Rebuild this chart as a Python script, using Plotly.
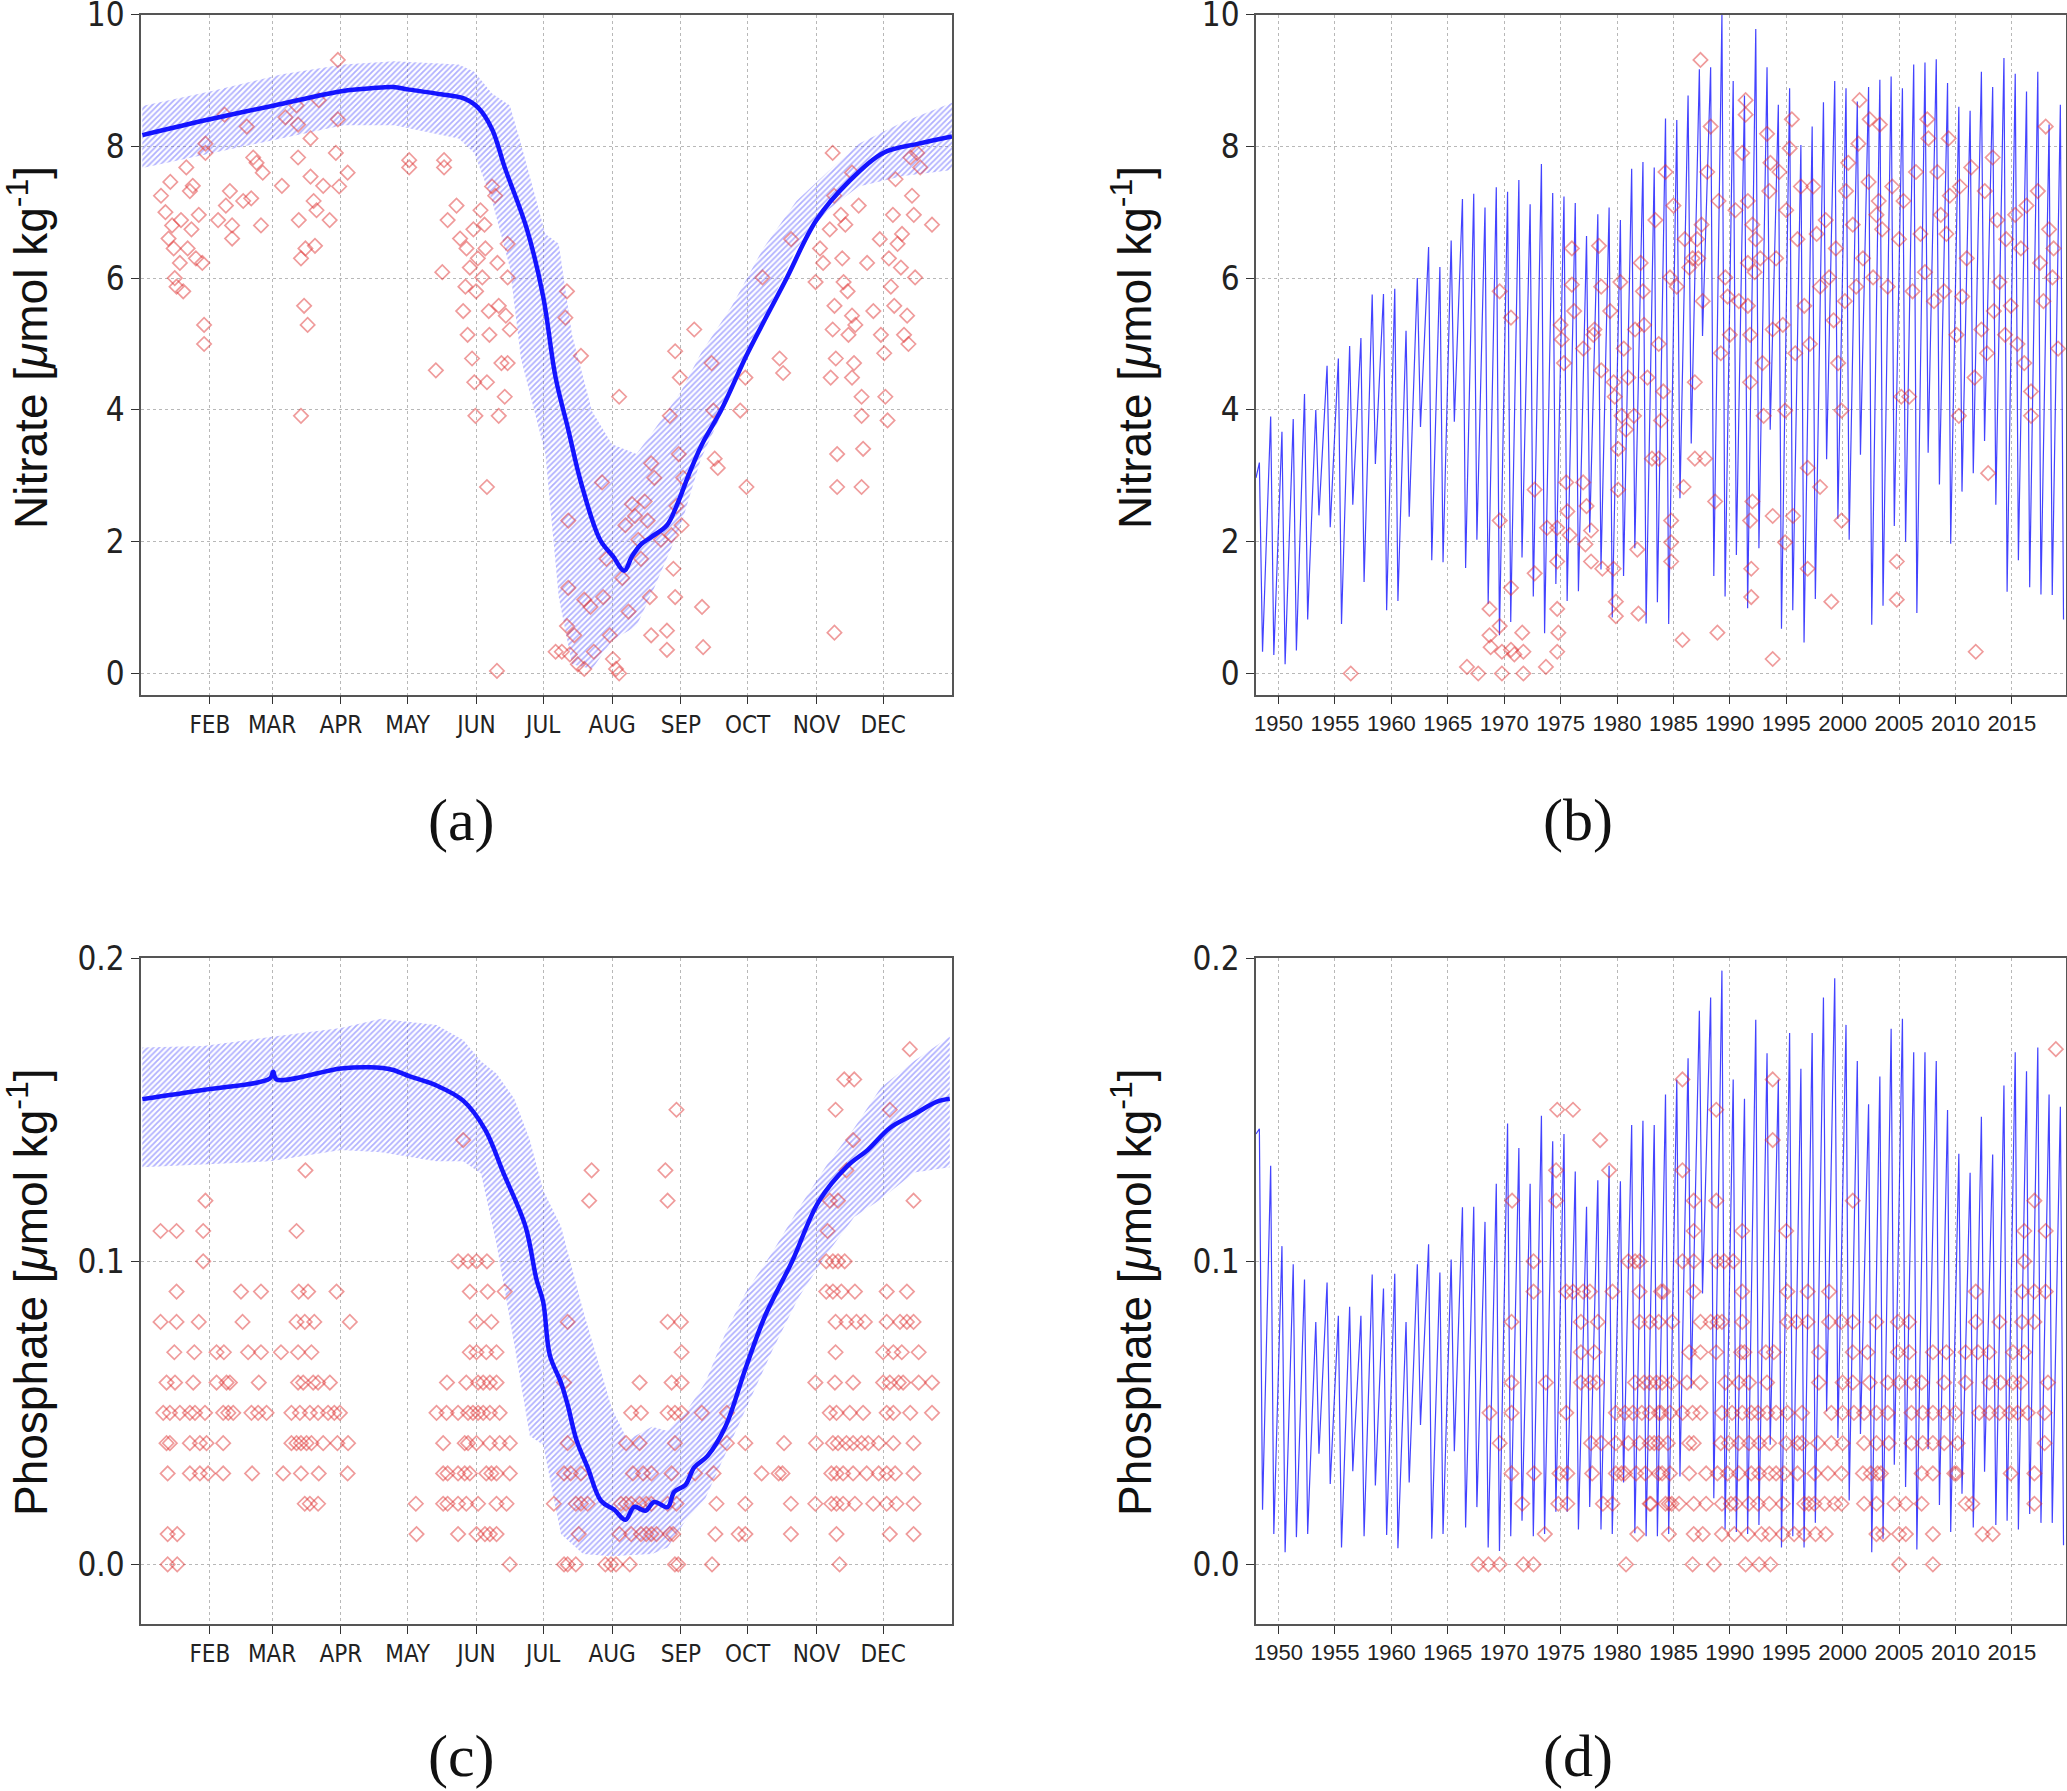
import plotly.graph_objects as go

# ---------------- data ----------------
MONTH_DAYS = [32, 60, 91, 121, 152, 182, 213, 244, 274, 305, 335]
MONTH_LABELS = ['FEB', 'MAR', 'APR', 'MAY', 'JUN', 'JUL', 'AUG', 'SEP', 'OCT', 'NOV', 'DEC']
YEAR_TICKS = list(range(1950, 2016, 5))

# climatology, nitrate (day of year, mean, band low, band high)
no3_clim_day = [1.6, 32, 61, 92, 104.5, 114.5, 121.7, 136, 146, 152.6, 159, 164.7, 174.7, 182, 187.6,
                193.3, 199, 207.6, 213.4, 218.5, 222, 226, 230.6, 237.7, 242, 247.8, 253.5, 262, 274,
                290.7, 305, 319.4, 335, 351, 366]
no3_clim_mean = [8.17, 8.41, 8.62, 8.84, 8.88, 8.90, 8.86, 8.79, 8.73, 8.59, 8.26, 7.68, 6.74, 5.72, 4.49,
                 3.70, 2.90, 2.03, 1.78, 1.56, 1.78, 1.96, 2.07, 2.25, 2.54, 3.04, 3.48, 3.99, 4.86,
                 5.94, 6.88, 7.46, 7.90, 8.04, 8.15]
no3_band_day = [1.6, 33, 64, 92, 115, 144, 151, 159, 167, 172, 183, 189, 195, 204, 213, 224, 232, 244,
                253, 267, 281, 296, 310, 324, 344, 366]
no3_band_hi = [8.61, 8.84, 9.09, 9.24, 9.29, 9.24, 9.13, 8.80, 8.62, 8.04, 6.67, 6.52, 5.14, 3.98, 3.48,
               3.33, 3.70, 4.28, 4.86, 5.58, 6.45, 7.17, 7.61, 8.04, 8.37, 8.66]
no3_band_lo = [7.67, 7.90, 8.12, 8.32, 8.32, 8.12, 7.90, 7.17, 6.16, 4.78, 3.33, 1.16, 0.14, 0.07, 0.50,
               0.72, 1.30, 2.25, 3.26, 4.28, 5.36, 6.45, 7.03, 7.39, 7.55, 7.64]

# climatology, phosphate
po4_clim_day = [1.6, 29, 59, 60.5, 62, 91, 104, 114, 122, 134, 146, 156, 164, 174, 179, 182, 185, 190,
                193, 197, 202, 208, 214, 219, 223, 228, 232, 238, 241, 246, 250, 256, 264, 273, 282,
                294, 306, 319, 328, 338, 349, 359, 365]
po4_clim_mean = [0.1535, 0.1565, 0.1603, 0.1625, 0.1600, 0.1636, 0.1640, 0.1632, 0.1610, 0.1580, 0.1530,
                 0.1433, 0.1293, 0.1116, 0.0940, 0.0866, 0.0690, 0.0600, 0.0527, 0.0410, 0.0320, 0.0210,
                 0.0180, 0.0147, 0.0190, 0.0177, 0.0206, 0.0189, 0.0240, 0.0262, 0.0320, 0.0358, 0.0454,
                 0.0645, 0.0822, 0.0999, 0.1197, 0.1315, 0.1367, 0.1440, 0.1485, 0.1526, 0.1536]
po4_band_day = [1.6, 29, 59, 91, 109, 134, 146, 154, 161, 169, 176, 182, 190, 200, 213, 220, 231, 238,
                246, 255, 264, 273, 285, 297, 310, 322, 334, 349, 365]
po4_band_hi = [0.1705, 0.1710, 0.1740, 0.1770, 0.1800, 0.1780, 0.1730, 0.1660, 0.1620, 0.1536, 0.1400,
               0.1234, 0.1116, 0.0837, 0.0513, 0.0410, 0.0454, 0.0440, 0.0500, 0.0600, 0.0763, 0.0895,
               0.1028, 0.1175, 0.1322, 0.1440, 0.1573, 0.1661, 0.1742]
po4_band_lo = [0.1310, 0.1320, 0.1330, 0.1367, 0.1360, 0.1330, 0.1330, 0.1290, 0.1057, 0.0726, 0.0424,
               0.0395, 0.0100, 0.0034, 0.0027, 0.0030, 0.0034, 0.0056, 0.0144, 0.0218, 0.0365, 0.0513,
               0.0704, 0.0881, 0.1028, 0.1146, 0.1205, 0.1293, 0.1310]

# model time series: yearly winter maximum and summer minimum, 1948-2019
model_years = list(range(1948, 2020))
no3_start = 2.97
no3_peak = [3.2, 3.9, 3.67, 3.86, 4.24, 4.0, 4.67, 4.78, 4.97, 5.09,
            5.75, 5.76, 5.84, 5.2, 6.0, 6.47, 6.17, 6.57, 7.2, 7.28,
            7.07, 7.38, 7.31, 7.49, 7.12, 7.73, 7.29, 7.24, 7.14, 6.64,
            6.97, 7.07, 6.88, 7.66, 7.76, 7.68, 8.42, 8.4, 8.77, 9.17,
            9.2, 10.0, 8.99, 8.77, 9.78, 9.2, 8.63, 8.88, 8.02, 8.3,
            8.67, 8.99, 8.88, 8.68, 8.9, 9.01, 9.06, 8.88, 9.24, 9.27,
            9.32, 8.96, 8.6, 8.54, 9.13, 8.9, 9.34, 9.1, 8.83, 9.13,
            8.33, 8.63]
no3_trough = [0.33, 0.28, 0.14, 0.35, 0.82, 2.4, 2.22, 0.75, 2.56, 1.39,
              3.18, 0.96, 1.1, 2.38, 3.74, 1.72, 1.69, 3.82, 1.6, 2.03,
              1.06, 0.58, 0.78, 1.76, 1.17, 0.61, 1.36, 1.1, 1.25, 2.14,
              1.58, 0.85, 1.48, 1.9, 0.76, 1.08, 0.75, 2.66, 3.49, 5.12,
              1.48, 1.17, 1.8, 0.99, 1.9, 3.7, 0.68, 0.96, 0.47, 1.13,
              3.25, 2.35, 2.03, 3.32, 0.74, 1.03, 2.24, 2.0, 0.92, 3.35,
              2.87, 1.97, 2.76, 3.04, 3.53, 2.56, 1.24, 1.72, 1.31, 1.2,
              1.19, 0.82]
po4_start = 0.142
po4_peak = [0.1437, 0.1315, 0.105, 0.099, 0.094, 0.080, 0.093, 0.082, 0.085, 0.082,
            0.0956, 0.091, 0.0959, 0.080, 0.099, 0.1056, 0.0963, 0.1006, 0.1178, 0.118,
            0.113, 0.1256, 0.1455, 0.1374, 0.1256, 0.148, 0.1396, 0.142, 0.1296, 0.118,
            0.1267, 0.1315, 0.1264, 0.145, 0.1464, 0.145, 0.155, 0.160, 0.167, 0.1827,
            0.187, 0.1959, 0.160, 0.1536, 0.1797, 0.1686, 0.160, 0.1753, 0.1635, 0.1753,
            0.187, 0.1934, 0.178, 0.1661, 0.1518, 0.161, 0.1767, 0.180, 0.169, 0.169,
            0.1661, 0.1499, 0.1355, 0.1292, 0.1477, 0.1352, 0.158, 0.169, 0.1627, 0.1705,
            0.155, 0.151]
po4_trough = [0.018, 0.010, 0.004, 0.009, 0.010, 0.0365, 0.0265, 0.0056, 0.0307, 0.0093,
              0.026, 0.0097, 0.0053, 0.027, 0.046, 0.0085, 0.010, 0.0373, 0.0122, 0.0189,
              0.0056, 0.0044, 0.0093, 0.0144, 0.0093, 0.010, 0.0174, 0.0174, 0.0115, 0.0189,
              0.0115, 0.010, 0.027, 0.0103, 0.0093, 0.0093, 0.010, 0.029, 0.058, 0.0894,
              0.0218, 0.0115, 0.0107, 0.010, 0.013, 0.0395, 0.0056, 0.0093, 0.0056, 0.0137,
              0.0505, 0.0417, 0.0211, 0.043, 0.004, 0.0085, 0.0329, 0.0255, 0.0049, 0.038,
              0.0196, 0.0107, 0.0233, 0.0122, 0.0306, 0.013, 0.0144, 0.0115, 0.0166, 0.0137,
              0.0137, 0.0063]

# observations, nitrate vs day of year (panel a)
no3_obs_doy = [
    (10, 7.25), (12, 7.0), (13.4, 6.6), (14.2, 7.46), (15, 6.8), (15.7, 6.45), (16.2, 6.0), (17, 5.87),
    (18.5, 6.23), (19, 6.88), (20, 5.8), (21.4, 7.68), (22, 6.45), (23, 7.32), (23.7, 6.74), (24.3, 7.4),
    (25.7, 6.3), (27, 6.96), (28.6, 6.23), (29.4, 5.29), (29.4, 5.0), (30, 8.04), (30, 7.9), (35.7, 6.88),
    (38.6, 8.48), (39.2, 7.1), (41, 7.32), (42, 6.8), (42, 6.6), (47, 7.17), (48.6, 8.3), (50.6, 7.21),
    (51.5, 7.83), (53, 7.75), (55, 6.8), (55.8, 7.6), (64.4, 7.4), (66, 8.44), (71, 8.62), (71.7, 8.33),
    (71.7, 7.83), (72, 6.88), (73, 6.3), (73, 3.91), (74.4, 5.58), (75, 6.45), (76, 5.29), (77.3, 8.12),
    (77.3, 7.54), (78.7, 7.17), (79.3, 6.49), (80, 7.03), (81, 8.7), (83, 7.4), (85.9, 6.88), (88.7, 7.9),
    (89.6, 9.31), (89.6, 8.41), (90.2, 7.39), (94, 7.6),
    (121.7, 7.79), (121.7, 7.68), (133.7, 4.6), (137.4, 7.79), (137.4, 7.68),
    (136.6, 6.09), (139, 6.88), (143, 7.1), (144.6, 6.6), (146, 5.5), (147, 5.87), (147.5, 6.45), (148, 5.14),
    (149, 6.16), (150, 4.78), (150.6, 6.74), (151, 4.42), (151.5, 3.91), (151.8, 5.8), (152.6, 6.3),
    (153.8, 7.03), (154.6, 6.01), (155.6, 6.81), (156, 6.45), (156.7, 4.42), (156.7, 2.83), (157.5, 5.5),
    (157.8, 5.14), (159, 7.39), (160.4, 7.25), (161.4, 6.23), (162, 5.58), (162, 3.91), (163.2, 4.71),
    (164.7, 4.2), (165.2, 5.43), (166, 6.01), (166, 6.52), (167, 5.22), (166, 4.71), (161.2, 0.04),
    (192.7, 5.8), (192, 5.4), (199, 4.82), (193.3, 2.32), (193.3, 1.3), (192.7, 0.72), (187.6, 0.33),
    (190.4, 0.33), (194, 0.29), (196, 0.58), (197.6, 0.14), (200.5, 1.12), (200.5, 0.07), (203.3, 1.01),
    (204.8, 0.33), (208.5, 2.9), (209, 1.16), (210.5, 1.74), (212, 0.58), (213.4, 0.22), (214.8, 0.07),
    (216.2, 4.2), (216.2, 0.0), (217.6, 1.45), (219, 2.25), (220.4, 0.94), (222, 2.57), (223.3, 2.39),
    (224.8, 2.03), (226, 1.74), (227.7, 2.61), (229, 2.32), (230, 1.16), (230.6, 0.58), (230.6, 3.19),
    (232, 2.97), (235, 2.03), (237.7, 0.65), (237.7, 0.36), (239, 3.91), (239.7, 2.1), (240.6, 1.59),
    (241.4, 1.16), (241.4, 4.89), (242, 2.54), (243, 3.33), (243.5, 4.49), (244.3, 2.25), (245, 2.97),
    (250, 5.22), (253.5, 1.01), (254, 0.4), (257.8, 4.71), (258.6, 3.99), (259.2, 3.26), (260.6, 3.12),
    (270.7, 3.99), (273, 4.49), (273.5, 2.83), (280.7, 6.01), (288.4, 4.78), (290, 4.56), (293.6, 6.59),
    (304.6, 5.94), (306.6, 6.45), (308, 6.23), (311, 6.74), (311.4, 4.49), (312.3, 7.9), (312.3, 5.22),
    (313, 7.25), (313.1, 5.58), (313.7, 4.78), (314.3, 3.33), (314.3, 2.83), (313.1, 0.62), (316, 6.96),
    (316.6, 6.3), (317.2, 5.94), (318, 6.81), (319, 5.8), (319.4, 5.14), (321, 7.6), (321, 5.43), (321, 4.49),
    (321.9, 4.71), (322.5, 5.29), (324, 7.1), (325.3, 4.2), (325.3, 3.91), (326, 3.41), (325.3, 2.83),
    (327.8, 6.23), (330.6, 5.5), (333.5, 6.59), (334, 5.14), (335.5, 4.86), (336, 4.2), (337, 3.84),
    (337.6, 6.3), (338.5, 5.87), (339.4, 6.96), (340, 5.58), (340.6, 7.5), (341.5, 6.52), (343, 6.16),
    (343.5, 6.67), (344.4, 5.14), (345.8, 5.43), (346.4, 5.0), (347.3, 7.83), (348, 7.25), (348.8, 6.96),
    (349.4, 6.01), (350.3, 7.9), (351.7, 7.68), (357, 6.81),
]

# observations, nitrate vs time (panel b)
no3_obs_time = [
    (1956.4, 0.0), (1966.7, 0.1), (1967.7, 0.0), (1968.7, 0.98), (1968.7, 0.58), (1968.8, 0.4), (1969.6, 2.32),
    (1969.6, 5.8), (1969.6, 0.72), (1969.8, 0.0), (1969.8, 0.33), (1970.6, 5.4), (1970.6, 1.3), (1970.6, 0.36),
    (1970.9, 0.29), (1971.6, 0.62), (1971.7, 0.33), (1971.7, 0.0), (1972.7, 2.79), (1972.7, 1.52), (1973.7, 0.1),
    (1973.8, 2.21), (1974.7, 0.98), (1974.7, 0.33), (1974.7, 1.7), (1974.7, 2.21), (1974.8, 0.62), (1975.0, 5.29),
    (1975.1, 5.07), (1975.3, 4.71), (1975.5, 2.9), (1975.6, 2.46), (1975.8, 2.1), (1976.0, 6.45), (1976.0, 5.9),
    (1976.2, 5.5), (1977.0, 4.93), (1977.0, 2.9), (1977.2, 1.96), (1977.3, 2.54), (1977.7, 1.7), (1977.9, 5.14),
    (1978.0, 5.22), (1977.7, 2.17), (1978.4, 6.49), (1978.6, 5.87), (1978.6, 4.6), (1978.7, 1.59), (1979.4, 5.5),
    (1979.7, 1.59), (1979.7, 4.42), (1979.8, 4.2), (1979.9, 1.09), (1979.9, 0.87), (1980.1, 3.41), (1980.1, 2.79),
    (1980.3, 5.94), (1980.4, 3.91), (1980.6, 4.93), (1980.8, 3.7), (1981.0, 4.49), (1981.5, 3.91), (1981.6, 5.22),
    (1981.8, 1.88), (1981.9, 0.91), (1982.1, 6.23), (1982.3, 5.8), (1982.4, 5.29), (1982.7, 4.49), (1983.1, 3.26),
    (1983.4, 6.88), (1983.7, 5.0), (1983.7, 3.26), (1983.9, 3.84), (1984.1, 4.28), (1984.3, 7.61), (1984.7, 6.01),
    (1984.8, 2.32), (1984.8, 1.99), (1984.8, 1.7), (1985.0, 7.1), (1985.3, 5.87), (1985.8, 0.51), (1985.9, 2.83),
    (1986.0, 6.59), (1986.4, 6.16), (1986.7, 6.3), (1986.9, 4.42), (1986.9, 3.26), (1987.1, 6.59), (1987.2, 6.3),
    (1987.4, 9.31), (1987.5, 6.81), (1987.6, 5.65), (1987.8, 3.26), (1988.0, 7.61), (1988.3, 8.3), (1988.7, 2.61),
    (1988.9, 0.62), (1989.0, 7.17), (1989.2, 4.86), (1989.6, 6.01), (1989.8, 5.72), (1990.0, 5.14), (1990.5, 7.03),
    (1990.8, 5.65), (1991.1, 7.9), (1991.4, 8.48), (1991.4, 8.7), (1991.6, 7.17), (1991.6, 6.23), (1991.6, 5.58),
    (1991.8, 5.14), (1991.8, 4.42), (1991.8, 2.32), (1991.9, 1.59), (1991.9, 1.16), (1992.0, 2.61), (1992.0, 6.81),
    (1992.2, 6.09), (1992.3, 6.59), (1992.7, 6.3), (1992.9, 4.71), (1993.0, 3.91), (1993.3, 8.19), (1993.5, 7.32),
    (1993.6, 7.75), (1993.8, 5.22), (1993.8, 2.39), (1993.8, 0.22), (1994.1, 6.3), (1994.4, 7.61), (1994.7, 5.29),
    (1994.9, 3.99), (1994.9, 1.99), (1995.0, 7.03), (1995.3, 7.97), (1995.5, 8.41), (1995.6, 2.39), (1995.8, 4.86),
    (1996.0, 6.59), (1996.3, 7.39), (1996.6, 5.58), (1996.9, 3.12), (1996.9, 1.59), (1997.1, 5.0), (1997.4, 7.39),
    (1997.7, 6.67), (1998.0, 2.83), (1998.0, 5.87), (1998.5, 6.88), (1998.8, 6.01), (1999.0, 1.09), (1999.2, 5.36),
    (1999.4, 6.45), (1999.6, 4.71), (1999.9, 2.32), (1999.9, 3.99), (2000.2, 5.65), (2000.3, 7.32), (2000.5, 7.75),
    (2000.9, 6.81), (2001.2, 5.87), (2001.4, 8.04), (2001.5, 8.7), (2001.8, 6.3), (2002.3, 7.46), (2002.4, 8.41),
    (2002.7, 6.01), (2003.0, 6.96), (2003.2, 7.17), (2003.3, 8.33), (2003.5, 6.74), (2004.0, 5.87), (2004.4, 7.39),
    (2004.8, 1.7), (2004.8, 1.12), (2005.0, 6.59), (2005.2, 4.2), (2005.4, 7.17), (2005.9, 4.2), (2006.2, 5.8),
    (2006.5, 7.61), (2006.9, 6.67), (2007.3, 6.09), (2007.5, 8.41), (2007.6, 8.12), (2008.1, 5.65), (2008.4, 7.61),
    (2008.7, 6.96), (2009.0, 5.8), (2009.2, 6.67), (2009.4, 8.12), (2009.5, 7.25), (2010.1, 5.14), (2010.3, 3.91),
    (2010.4, 7.39), (2010.6, 5.72), (2011.0, 6.3), (2011.4, 7.68), (2011.7, 4.49), (2011.8, 0.33), (2012.3, 5.22),
    (2012.6, 7.32), (2012.8, 4.86), (2012.9, 3.04), (2013.3, 7.83), (2013.4, 5.5), (2013.7, 6.88), (2013.9, 5.94),
    (2014.4, 5.14), (2014.5, 6.59), (2014.9, 5.58), (2015.3, 6.96), (2015.5, 5.0), (2015.8, 6.45), (2016.1, 4.71),
    (2016.3, 7.1), (2016.7, 4.28), (2016.7, 3.91), (2017.3, 7.32), (2017.5, 6.23), (2017.8, 5.65), (2018.0, 8.3),
    (2018.3, 6.74), (2018.6, 6.01), (2018.7, 6.45), (2019.1, 4.93),
]

# observations, phosphate vs day of year (panel c)
po4_obs_doy = [
    (13, 0.00), (17.3, 0.00), (167, 0.00),
    (191.4, 0.00), (193, 0.00), (196.7, 0.00), (210, 0.00), (212.5, 0.00), (214.8, 0.00), (221, 0.00),
    (241.3, 0.00), (242.8, 0.00), (258, 0.00), (315.4, 0.00),
    (13, 0.01), (17.3, 0.01), (125, 0.01), (143.7, 0.01), (152, 0.01), (155.8, 0.01), (158, 0.01), (161, 0.01),
    (198, 0.01), (216.3, 0.01), (221.6, 0.01), (226, 0.01), (228.4, 0.01), (230.7, 0.01), (233, 0.01),
    (239, 0.01), (240.5, 0.01), (259.5, 0.01), (270, 0.01), (273, 0.01), (293.5, 0.01), (314, 0.01),
    (338, 0.01), (348.7, 0.01),
    (74.7, 0.02), (77, 0.02), (80.7, 0.02), (124.7, 0.02), (137, 0.02), (139, 0.02), (143.7, 0.02),
    (147.4, 0.02), (152.7, 0.02), (161, 0.02), (165.5, 0.02), (186.8, 0.02), (196.7, 0.02), (199, 0.02),
    (202, 0.02), (217, 0.02), (219.3, 0.02), (221.6, 0.02), (225.4, 0.02), (228.4, 0.02), (230.7, 0.02),
    (238, 0.02), (242, 0.02), (260, 0.02), (273, 0.02), (293.5, 0.02), (304.5, 0.02), (311.7, 0.02),
    (314, 0.02), (317, 0.02), (322.3, 0.02), (330.6, 0.02), (336.6, 0.02), (341, 0.02), (348.7, 0.02),
    (13, 0.03), (23, 0.03), (27.5, 0.03), (31.2, 0.03), (38, 0.03), (51, 0.03), (65, 0.03), (73, 0.03),
    (81, 0.03), (94, 0.03), (137, 0.03), (139, 0.03), (143.7, 0.03), (146.7, 0.03), (149, 0.03), (156.4, 0.03),
    (158.7, 0.03), (161, 0.03), (167, 0.03), (191.4, 0.03), (194.4, 0.03), (199, 0.03), (222.4, 0.03),
    (227, 0.03), (230.7, 0.03), (239.8, 0.03), (250.4, 0.03), (258.7, 0.03), (280.3, 0.03), (288, 0.03),
    (289.7, 0.03), (311.7, 0.03), (314, 0.03), (317, 0.03), (321.5, 0.03), (327.6, 0.03), (333, 0.03),
    (336.6, 0.03), (340.4, 0.03), (348.7, 0.03),
    (12.5, 0.04), (14, 0.04), (23, 0.04), (27.5, 0.04), (30.5, 0.04), (38, 0.04), (68.7, 0.04), (71, 0.04),
    (73, 0.04), (75.5, 0.04), (77.7, 0.04), (83, 0.04), (89.4, 0.04), (94.2, 0.04), (137, 0.04), (146.7, 0.04),
    (148.2, 0.04), (152, 0.04), (158, 0.04), (162.4, 0.04), (167, 0.04), (193, 0.04), (219.3, 0.04),
    (225.4, 0.04), (241.3, 0.04), (264.7, 0.04), (273, 0.04), (290.4, 0.04), (304.8, 0.04), (312.4, 0.04),
    (314.7, 0.04), (318.5, 0.04), (321.5, 0.04), (325.3, 0.04), (328.3, 0.04), (333, 0.04), (339.6, 0.04),
    (348.7, 0.04),
    (11, 0.05), (14, 0.05), (18.5, 0.05), (23, 0.05), (25.3, 0.05), (29.8, 0.05), (38, 0.05), (40.3, 0.05),
    (42.5, 0.05), (50.7, 0.05), (53.7, 0.05), (57.5, 0.05), (68.7, 0.05), (72.5, 0.05), (77, 0.05),
    (80.7, 0.05), (85.2, 0.05), (88, 0.05), (90.5, 0.05), (134, 0.05), (138.5, 0.05), (143.7, 0.05),
    (148.2, 0.05), (150.4, 0.05), (152.7, 0.05), (155, 0.05), (158, 0.05), (162.4, 0.05), (221.6, 0.05),
    (226, 0.05), (238, 0.05), (241.3, 0.05), (244.3, 0.05), (253.4, 0.05), (264.7, 0.05), (311, 0.05),
    (314, 0.05), (320, 0.05), (326, 0.05), (336.6, 0.05), (339.6, 0.05), (347.2, 0.05), (357, 0.05),
    (12.5, 0.06), (16.3, 0.06), (24.5, 0.06), (35, 0.06), (39.5, 0.06), (41, 0.06), (54, 0.06), (71.7, 0.06),
    (74, 0.06), (78.5, 0.06), (80.7, 0.06), (86, 0.06), (138.7, 0.06), (147.4, 0.06), (152.7, 0.06),
    (155, 0.06), (158, 0.06), (161, 0.06), (191.4, 0.06), (225.4, 0.06), (239.8, 0.06), (244.3, 0.06),
    (304.5, 0.06), (313.3, 0.06), (321.5, 0.06), (335, 0.06), (338, 0.06), (342, 0.06), (344, 0.06),
    (351, 0.06), (357, 0.06),
    (16, 0.07), (25, 0.07), (35, 0.07), (38.3, 0.07), (49.2, 0.07), (55, 0.07), (64, 0.07), (71.7, 0.07),
    (77.7, 0.07), (149, 0.07), (152, 0.07), (156.4, 0.07), (161, 0.07), (244.3, 0.07), (313.6, 0.07),
    (335, 0.07), (339.6, 0.07), (343.4, 0.07), (351, 0.07),
    (9.8, 0.08), (17, 0.08), (27, 0.08), (46.7, 0.08), (71, 0.08), (74.7, 0.08), (79, 0.08), (95, 0.08),
    (152, 0.08), (158.7, 0.08), (193, 0.08), (238, 0.08), (244, 0.08), (313.6, 0.08), (318.5, 0.08),
    (323, 0.08), (326.8, 0.08), (336.6, 0.08), (342.6, 0.08), (345.7, 0.08), (348.7, 0.08),
    (17, 0.09), (46, 0.09), (55, 0.09), (72, 0.09), (76.2, 0.09), (89, 0.09), (149, 0.09), (157, 0.09),
    (164.7, 0.09), (309.4, 0.09), (312.4, 0.09), (316.2, 0.09), (322.3, 0.09), (336.6, 0.09), (345.7, 0.09),
    (29, 0.10), (143.7, 0.10), (148.2, 0.10), (152, 0.10), (156.7, 0.10), (309.4, 0.10), (312.4, 0.10),
    (314.7, 0.10), (317.7, 0.10),
    (9.8, 0.11), (17, 0.11), (29, 0.11), (71, 0.11), (310, 0.11),
    (30, 0.12), (202.7, 0.12), (238, 0.12), (311, 0.12), (314.7, 0.12), (348.7, 0.12),
    (75, 0.13), (203.8, 0.13), (237, 0.13), (318.5, 0.13),
    (146, 0.14), (321.5, 0.14),
    (242, 0.15), (313.6, 0.15), (338, 0.15),
    (317.5, 0.16), (322, 0.16),
    (347, 0.17),
]

# observations, phosphate vs time (panel d)
po4_obs_time = [
    (1967.7, 0.00), (1968.6, 0.00), (1969.6, 0.00), (1971.7, 0.00), (1972.6, 0.00), (1980.8, 0.00),
    (1986.7, 0.00), (1988.6, 0.00), (1991.4, 0.00), (1992.6, 0.00), (1993.6, 0.00), (2005.0, 0.00),
    (2008.0, 0.00),
    (1973.6, 0.01), (1981.8, 0.01), (1984.6, 0.01), (1986.8, 0.01), (1987.6, 0.01), (1989.3, 0.01),
    (1990.4, 0.01), (1991.6, 0.01), (1992.8, 0.01), (1993.5, 0.01), (1994.7, 0.01), (1995.7, 0.01),
    (1996.6, 0.01), (1997.6, 0.01), (1998.5, 0.01), (2003.0, 0.01), (2003.6, 0.01), (2005.0, 0.01),
    (2005.6, 0.01), (2008.0, 0.01), (2012.4, 0.01), (2013.3, 0.01),
    (1971.6, 0.02), (1974.8, 0.02), (1975.6, 0.02), (1978.75, 0.02), (1979.6, 0.02), (1982.9, 0.02),
    (1983.0, 0.02), (1984.3, 0.02), (1984.6, 0.02), (1984.85, 0.02), (1985.5, 0.02), (1986.8, 0.02),
    (1987.9, 0.02), (1989.3, 0.02), (1990.1, 0.02), (1990.5, 0.02), (1991.7, 0.02), (1992.5, 0.02),
    (1993.5, 0.02), (1994.7, 0.02), (1996.6, 0.02), (1997.0, 0.02), (1997.5, 0.02), (1998.4, 0.02),
    (1999.3, 0.02), (1999.9, 0.02), (2001.9, 0.02), (2003.0, 0.02), (2004.6, 0.02), (2005.6, 0.02),
    (2007.0, 0.02), (2010.9, 0.02), (2011.5, 0.02), (2017.0, 0.02),
    (1970.65, 0.03), (1972.65, 0.03), (1974.9, 0.03), (1975.6, 0.03), (1977.8, 0.03), (1979.9, 0.03),
    (1980.4, 0.03), (1980.7, 0.03), (1981.7, 0.03), (1982.5, 0.03), (1983.7, 0.03), (1984.0, 0.03),
    (1984.7, 0.03), (1986.4, 0.03), (1987.9, 0.03), (1988.9, 0.03), (1989.8, 0.03), (1990.8, 0.03),
    (1991.9, 0.03), (1992.6, 0.03), (1993.5, 0.03), (1994.1, 0.03), (1994.8, 0.03), (1996.0, 0.03),
    (1997.5, 0.03), (1998.7, 0.03), (1999.9, 0.03), (2001.8, 0.03), (2002.5, 0.03), (2003.1, 0.03),
    (2003.4, 0.03), (2007.0, 0.03), (2008.0, 0.03), (2009.9, 0.03), (2010.1, 0.03), (2014.9, 0.03),
    (2017.0, 0.03),
    (1969.6, 0.04), (1977.7, 0.04), (1978.6, 0.04), (1979.9, 0.04), (1981.0, 0.04), (1982.0, 0.04),
    (1982.9, 0.04), (1983.7, 0.04), (1983.3, 0.04), (1984.5, 0.04), (1986.4, 0.04), (1986.8, 0.04),
    (1989.2, 0.04), (1989.9, 0.04), (1990.8, 0.04), (1991.7, 0.04), (1992.6, 0.04), (1993.5, 0.04),
    (1995.0, 0.04), (1996.0, 0.04), (1996.4, 0.04), (1997.8, 0.04), (1999.0, 0.04), (2000.0, 0.04),
    (2001.9, 0.04), (2003.0, 0.04), (2004.1, 0.04), (2006.1, 0.04), (2007.1, 0.04), (2008.0, 0.04),
    (2009.0, 0.04), (2010.2, 0.04), (2017.9, 0.04),
    (1968.7, 0.05), (1970.65, 0.05), (1975.5, 0.05), (1979.9, 0.05), (1980.7, 0.05), (1981.4, 0.05),
    (1982.2, 0.05), (1982.9, 0.05), (1983.7, 0.05), (1984.7, 0.05), (1983.9, 0.05), (1985.8, 0.05),
    (1986.7, 0.05), (1987.4, 0.05), (1989.3, 0.05), (1990.2, 0.05), (1991.1, 0.05), (1991.9, 0.05),
    (1992.5, 0.05), (1993.3, 0.05), (1994.1, 0.05), (1995.1, 0.05), (1996.4, 0.05), (1999.0, 0.05),
    (2000.0, 0.05), (2001.0, 0.05), (2001.9, 0.05), (2003.0, 0.05), (2004.0, 0.05), (2006.1, 0.05),
    (2007.1, 0.05), (2008.0, 0.05), (2009.0, 0.05), (2010.0, 0.05), (2012.1, 0.05), (2013.0, 0.05),
    (2013.9, 0.05), (2014.8, 0.05), (2015.5, 0.05), (2016.4, 0.05), (2017.9, 0.05),
    (1970.65, 0.06), (1973.7, 0.06), (1976.8, 0.06), (1977.6, 0.06), (1978.2, 0.06), (1981.6, 0.06),
    (1982.4, 0.06), (1982.9, 0.06), (1983.5, 0.06), (1984.0, 0.06), (1984.85, 0.06), (1986.2, 0.06),
    (1987.4, 0.06), (1989.6, 0.06), (1990.8, 0.06), (1991.7, 0.06), (1993.3, 0.06), (1997.9, 0.06),
    (2000.0, 0.06), (2000.9, 0.06), (2002.4, 0.06), (2004.0, 0.06), (2005.0, 0.06), (2006.1, 0.06),
    (2007.0, 0.06), (2009.0, 0.06), (2010.9, 0.06), (2013.0, 0.06), (2014.0, 0.06), (2015.1, 0.06),
    (2015.8, 0.06), (2018.2, 0.06),
    (1976.8, 0.07), (1978.0, 0.07), (1986.4, 0.07), (1987.4, 0.07), (1988.8, 0.07), (1991.0, 0.07),
    (1991.3, 0.07), (1993.2, 0.07), (1993.9, 0.07), (1997.9, 0.07), (2000.9, 0.07), (2002.2, 0.07),
    (2004.9, 0.07), (2005.9, 0.07), (2008.0, 0.07), (2009.2, 0.07), (2010.9, 0.07), (2012.0, 0.07),
    (2013.0, 0.07), (2015.1, 0.07), (2016.1, 0.07),
    (1970.65, 0.08), (1976.8, 0.08), (1978.3, 0.08), (1982.0, 0.08), (1982.9, 0.08), (1983.7, 0.08),
    (1984.9, 0.08), (1987.4, 0.08), (1988.3, 0.08), (1988.9, 0.08), (1989.3, 0.08), (1991.1, 0.08),
    (1995.1, 0.08), (1995.9, 0.08), (1996.9, 0.08), (1998.8, 0.08), (1999.9, 0.08), (2000.9, 0.08),
    (2003.0, 0.08), (2004.9, 0.08), (2005.9, 0.08), (2011.8, 0.08), (2013.9, 0.08), (2015.9, 0.08),
    (2017.0, 0.08),
    (1972.6, 0.09), (1975.5, 0.09), (1976.1, 0.09), (1977.0, 0.09), (1977.6, 0.09), (1979.6, 0.09),
    (1982.0, 0.09), (1984.1, 0.09), (1983.9, 0.09), (1986.8, 0.09), (1991.1, 0.09), (1995.1, 0.09),
    (1996.9, 0.09), (1998.8, 0.09), (2011.8, 0.09), (2015.9, 0.09), (2017.0, 0.09), (2018.0, 0.09),
    (1972.6, 0.10), (1981.0, 0.10), (1981.6, 0.10), (1982.0, 0.10), (1985.8, 0.10), (1986.8, 0.10),
    (1988.8, 0.10), (1989.5, 0.10), (1990.3, 0.10), (2016.1, 0.10),
    (1986.8, 0.11), (1991.1, 0.11), (1995.0, 0.11), (2016.1, 0.11), (2018.0, 0.11),
    (1970.7, 0.12), (1974.6, 0.12), (1986.8, 0.12), (1988.8, 0.12), (2000.9, 0.12), (2017.0, 0.12),
    (1974.6, 0.13), (1979.3, 0.13), (1985.8, 0.13),
    (1978.5, 0.14), (1993.8, 0.14),
    (1974.7, 0.15), (1976.1, 0.15), (1988.8, 0.15),
    (1985.8, 0.16), (1993.8, 0.16),
    (2018.9, 0.17),
]

# ---------------- styles ----------------
BLUE = '#1414ff'
HATCH = dict(shape='/', fgcolor='rgba(80,80,255,0.9)', bgcolor='rgba(255,255,255,0)', size=4, solidity=0.45)
OBS_MARKER = dict(symbol='diamond-open', size=11, color='rgba(222,45,45,0.48)',
                  line=dict(width=1.7, color='rgba(222,45,45,0.48)'))
NARROW = 'Liberation Sans Narrow, DejaVu Sans Condensed, Arial Narrow, sans-serif'
TICK_FONT = dict(family=NARROW, size=33, color='#222')
XTICK_FONT = dict(family=NARROW, size=24, color='#222')
YEAR_FONT = dict(family='Liberation Sans, Arial, sans-serif', size=22, color='#222')

# figure fills the whole window (page margin removed below)
W, H = 2067, 1791


def px(x):
    return x / W


def py(y):
    return 1 - y / H


def model_series(start, peaks, troughs):
    xs, ys = [model_years[0]], [start]
    for yr, p, t in zip(model_years, peaks, troughs):
        xs += [yr + 0.30, yr + 0.58]
        ys += [p, t]
    return xs, ys


def add_climatology(fig, xa, ya, days, mean, bday, lo, hi, obs):
    fig.add_trace(go.Scatter(x=bday, y=lo, mode='lines', line=dict(width=0), hoverinfo='skip',
                             showlegend=False, xaxis=xa, yaxis=ya))
    fig.add_trace(go.Scatter(x=bday, y=hi, mode='lines', line=dict(width=0), fill='tonexty',
                             fillcolor='rgba(0,0,0,0)', fillpattern=HATCH, hoverinfo='skip',
                             showlegend=False, xaxis=xa, yaxis=ya))
    fig.add_trace(go.Scatter(x=[p[0] for p in obs], y=[p[1] for p in obs], mode='markers',
                             marker=OBS_MARKER, showlegend=False, xaxis=xa, yaxis=ya))
    fig.add_trace(go.Scatter(x=days, y=mean, mode='lines', line=dict(color=BLUE, width=4.5, shape='spline'),
                             showlegend=False, xaxis=xa, yaxis=ya))


def add_timeseries(fig, xa, ya, start, peaks, troughs, obs):
    xs, ys = model_series(start, peaks, troughs)
    fig.add_trace(go.Scatter(x=xs, y=ys, mode='lines', line=dict(color='rgba(20,20,255,0.8)', width=1.2),
                             showlegend=False, xaxis=xa, yaxis=ya))
    fig.add_trace(go.Scatter(x=[p[0] for p in obs], y=[p[1] for p in obs], mode='markers',
                             marker=OBS_MARKER, showlegend=False, xaxis=xa, yaxis=ya))


fig = go.Figure()
add_climatology(fig, 'x', 'y', no3_clim_day, no3_clim_mean, no3_band_day, no3_band_lo, no3_band_hi, no3_obs_doy)
add_timeseries(fig, 'x2', 'y2', no3_start, no3_peak, no3_trough, no3_obs_time)
add_climatology(fig, 'x3', 'y3', po4_clim_day, po4_clim_mean, po4_band_day, po4_band_lo, po4_band_hi, po4_obs_doy)
add_timeseries(fig, 'x4', 'y4', po4_start, po4_peak, po4_trough, po4_obs_time)

X_LEFT = [px(141), px(952)]
X_RIGHT = [px(1256), px(2066)]
Y_TOP = [py(694.6), py(14.5)]
Y_BOT = [py(1623.8), py(958.2)]

common = dict(showline=True, linecolor='#555', linewidth=1.5, mirror=True, ticks='outside', ticklen=8,
              tickcolor='#333', showgrid=True, gridcolor='#b8b8b8', griddash='dot', gridwidth=1,
              zeroline=False, automargin=False, ticklabeloverflow='allow')

month_axis = dict(common, range=[1, 366], tickvals=MONTH_DAYS, ticktext=MONTH_LABELS, tickfont=XTICK_FONT,
                  tickangle=0)
year_axis = dict(common, range=[1948.0, 2019.8], tickvals=YEAR_TICKS, tickfont=YEAR_FONT, tickangle=0)
no3_axis = dict(common, range=[-0.32, 10], tickvals=[0, 2, 4, 6, 8, 10], tickfont=TICK_FONT)
po4_axis = dict(common, range=[-0.0196, 0.2], tickvals=[0.0, 0.1, 0.2], tickformat='.1f', tickfont=TICK_FONT)

fig.update_layout(
    width=W, height=H, autosize=False,
    margin=dict(l=0, r=0, t=0, b=0, pad=0),
    paper_bgcolor='white', plot_bgcolor='white',
    xaxis=dict(month_axis, domain=X_LEFT, anchor='y'),
    yaxis=dict(no3_axis, domain=Y_TOP, anchor='x'),
    xaxis2=dict(year_axis, domain=X_RIGHT, anchor='y2'),
    yaxis2=dict(no3_axis, domain=Y_TOP, anchor='x2'),
    xaxis3=dict(month_axis, domain=X_LEFT, anchor='y3'),
    yaxis3=dict(po4_axis, domain=Y_BOT, anchor='x3'),
    xaxis4=dict(year_axis, domain=X_RIGHT, anchor='y4'),
    yaxis4=dict(po4_axis, domain=Y_BOT, anchor='x4'),
)

TITLE_FONT = dict(family='Liberation Sans, Arial, sans-serif', size=46, color='#111')
LABEL_FONT = dict(family='Liberation Serif, DejaVu Serif, serif', size=60, color='#111')
no3_title = 'Nitrate [<i>μ</i>mol kg<sup>-1</sup>]'
po4_title = 'Phosphate [<i>μ</i>mol kg<sup>-1</sup>]'
titles = [(px(28), py(348), no3_title), (px(1132), py(348), no3_title),
          (px(28), py(1292), po4_title), (px(1132), py(1292), po4_title)]
for x, y, t in titles:
    fig.add_annotation(x=x, y=y, xref='paper', yref='paper', text=t, textangle=-90, showarrow=False,
                       font=TITLE_FONT, xanchor='center', yanchor='middle')
panel_labels = [(px(461), py(820), 'middle', '(a)'), (px(1578), py(820), 'middle', '(b)'),
                (px(461), 0.0, 'bottom', '(c)'), (px(1578), 0.0, 'bottom', '(d)')]
for x, y, anchor, t in panel_labels:
    fig.add_annotation(x=x, y=y, xref='paper', yref='paper', text=t, showarrow=False,
                       font=LABEL_FONT, xanchor='center', yanchor=anchor)

fig.write_html("out.html", config={'displayModeBar': False},
               post_script="document.body.style.margin='0px'; document.body.style.overflow='hidden';")
